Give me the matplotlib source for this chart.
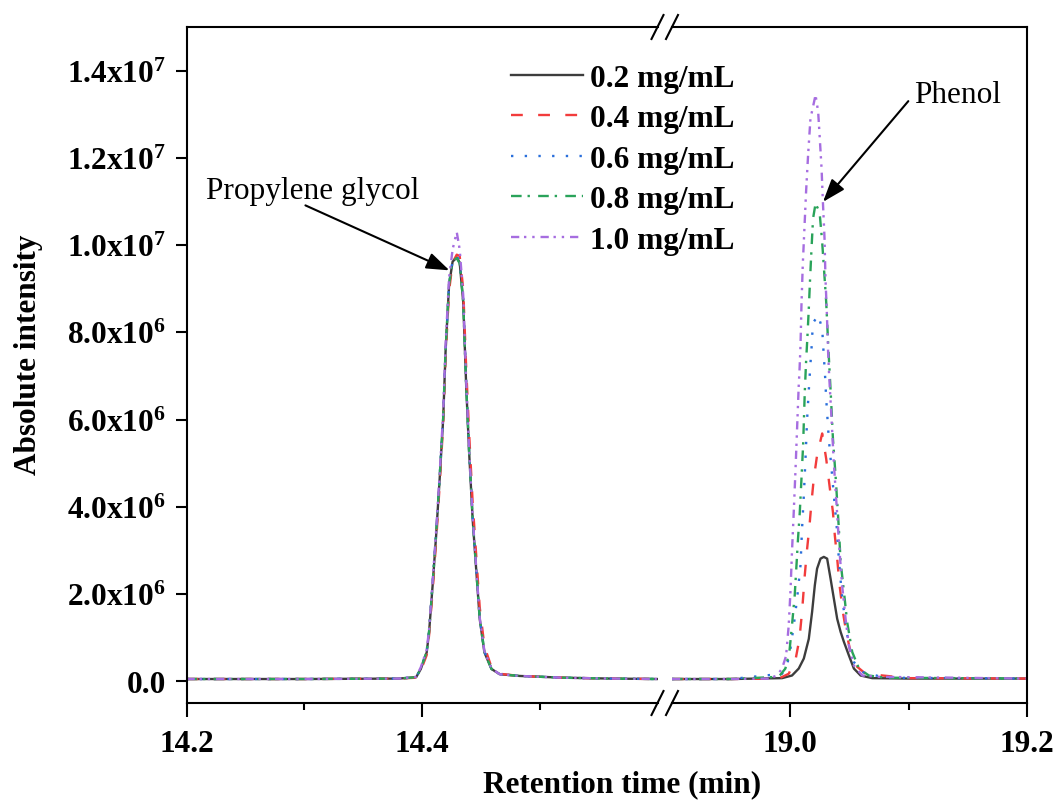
import matplotlib
matplotlib.use('Agg')
import matplotlib.pyplot as plt
from matplotlib.lines import Line2D
import numpy as np

plt.rcParams['font.family'] = ['Liberation Serif', 'DejaVu Serif']
plt.rcParams['mathtext.fontset'] = 'custom'
plt.rcParams['mathtext.rm'] = 'Liberation Serif'
plt.rcParams['mathtext.bf'] = 'Liberation Serif:bold'
plt.rcParams['mathtext.default'] = 'bf'

LABELS = ['0.2 mg/mL', '0.4 mg/mL', '0.6 mg/mL', '0.8 mg/mL', '1.0 mg/mL']
COLORS = ['#3d3d3d', '#f23c3c', '#2a6fdb', '#2aa35a', '#a66de0']
STYLES = ['-', (0, (5, 6.5)), (0, (1, 4.8)), (0, (4.5, 2.5, 1, 3.5)),
          (0, (3.5, 2, 1, 2.5, 1, 2.5))]

# propylene glycol peak (retention time in min, intensity in 1e6)
t_left = [14.20, 14.30, 14.38, 14.395, 14.399, 14.404, 14.406, 14.409, 14.412, 14.415,
          14.418, 14.420, 14.423, 14.426, 14.4295, 14.432, 14.435, 14.4375, 14.440, 14.443,
          14.446, 14.449, 14.453, 14.459, 14.466, 14.483, 14.52, 14.56, 14.60]
pg_02 = [0.05, 0.05, 0.06, 0.09, 0.28, 0.66, 1.12, 2.19, 3.34, 4.64, 6.02, 7.55, 9.09, 9.62,
         9.72, 9.60, 8.70, 6.79, 5.26, 3.72, 2.57, 1.43, 0.66, 0.28, 0.16, 0.12, 0.08, 0.06, 0.05]
pg_04 = [0.05, 0.05, 0.06, 0.08, 0.25, 0.60, 1.05, 2.05, 3.20, 4.50, 5.90, 7.40, 8.95, 9.60,
         9.78, 9.75, 9.00, 7.20, 5.70, 4.10, 2.90, 1.70, 0.80, 0.32, 0.17, 0.12, 0.08, 0.06, 0.05]
pg_06 = [0.05, 0.05, 0.06, 0.09, 0.30, 0.70, 1.15, 2.25, 3.40, 4.70, 6.10, 7.60, 9.10, 9.65,
         9.75, 9.62, 8.75, 6.85, 5.30, 3.75, 2.60, 1.45, 0.68, 0.29, 0.16, 0.12, 0.08, 0.06, 0.05]
pg_08 = [0.05, 0.05, 0.06, 0.09, 0.29, 0.68, 1.14, 2.22, 3.37, 4.68, 6.05, 7.58, 9.10, 9.64,
         9.70, 9.58, 8.70, 6.80, 5.28, 3.74, 2.58, 1.44, 0.67, 0.28, 0.16, 0.12, 0.08, 0.06, 0.05]
pg_10 = [0.05, 0.05, 0.06, 0.10, 0.32, 0.72, 1.18, 2.28, 3.45, 4.75, 6.15, 7.70, 9.25, 9.90,
         10.30, 9.90, 8.85, 6.90, 5.35, 3.78, 2.62, 1.46, 0.69, 0.29, 0.16, 0.12, 0.08, 0.06, 0.05]

# phenol peak, one time axis per series
ph_t_02 = [18.90, 18.95, 18.993, 19.0014, 19.0071, 19.0114, 19.0156, 19.0184, 19.0207, 19.0226,
           19.0255, 19.0283, 19.0311, 19.034, 19.0368, 19.0396, 19.0425, 19.0453, 19.0495,
           19.0537, 19.0594, 19.0692, 19.10, 19.20]
ph_02 = [0.05, 0.05, 0.07, 0.13, 0.29, 0.52, 0.97, 1.59, 2.20, 2.58, 2.81, 2.85, 2.81, 2.35,
         1.89, 1.43, 1.13, 0.90, 0.59, 0.29, 0.13, 0.07, 0.06, 0.06]
ph_t_04 = [18.90, 18.95, 18.9902, 18.9986, 19.0043, 19.0077, 19.0099, 19.0122, 19.0142, 19.0162,
           19.0179, 19.0198, 19.0226, 19.0269, 19.0303, 19.0334, 19.036, 19.0376, 19.0396,
           19.0416, 19.0444, 19.0472, 19.0509, 19.0552, 19.0636, 19.10, 19.20]
ph_04 = [0.05, 0.05, 0.06, 0.17, 0.48, 0.97, 1.59, 2.43, 3.04, 3.57, 4.11, 4.64, 5.18, 5.68,
         5.10, 4.42, 3.88, 3.34, 2.81, 2.20, 1.59, 1.13, 0.67, 0.36, 0.17, 0.07, 0.06]
ph_t_06 = [18.90, 18.95, 18.993, 18.9972, 19.0001, 19.0029, 19.0057, 19.0086, 19.0099, 19.0114,
           19.0128, 19.0142, 19.0156, 19.017, 19.0179, 19.0184, 19.0198, 19.0235, 19.0269,
           19.0283, 19.0292, 19.0303, 19.0325, 19.0348, 19.0368, 19.0391, 19.041, 19.0433,
           19.0461, 19.0495, 19.0537, 19.0608, 19.08, 19.20]
ph_06 = [0.05, 0.05, 0.17, 0.36, 0.75, 1.28, 1.89, 2.66, 3.50, 4.26, 5.10, 6.02, 6.67, 7.28,
         7.62, 7.93, 8.24, 8.39, 8.09, 7.44, 7.09, 6.48, 5.56, 4.87, 4.26, 3.57, 2.81, 2.05,
         1.43, 0.82, 0.44, 0.21, 0.08, 0.06]
ph_t_08 = [18.90, 18.95, 18.9902, 18.9958, 18.9992, 19.0014, 19.0037, 19.0052, 19.0065, 19.008,
           19.0094, 19.0108, 19.0122, 19.0133, 19.0145, 19.0156, 19.0167, 19.0179, 19.0192,
           19.0213, 19.0247, 19.0269, 19.0286, 19.0303, 19.0315, 19.0326, 19.0341, 19.036,
           19.0382, 19.0396, 19.041, 19.0425, 19.0453, 19.048, 19.0523, 19.058, 19.0664,
           19.08, 19.20]
ph_08 = [0.05, 0.05, 0.10, 0.29, 0.67, 1.28, 1.97, 2.66, 3.27, 3.88, 4.64, 5.41, 6.63, 7.32,
         7.93, 8.54, 9.23, 9.92, 10.61, 10.95, 10.76, 10.07, 9.39, 8.70, 8.01, 7.40, 6.63, 5.56,
         4.72, 4.11, 3.50, 2.73, 2.05, 1.36, 0.67, 0.29, 0.13, 0.08, 0.06]
ph_t_10 = [18.90, 18.95, 18.9817, 18.9887, 18.993, 18.9964, 18.9986, 19.0001, 19.0014, 19.0029,
           19.0043, 19.0057, 19.0071, 19.0077, 19.0086, 19.0094, 19.0105, 19.0119, 19.0133,
           19.015, 19.017, 19.0213, 19.0235, 19.0249, 19.0264, 19.0275, 19.0289, 19.0297,
           19.0308, 19.0319, 19.0328, 19.0345, 19.0367, 19.0391, 19.0416, 19.0438, 19.0467,
           19.0495, 19.0537, 19.0608, 19.0749, 19.20]
ph_10 = [0.05, 0.05, 0.06, 0.13, 0.29, 0.58, 1.27, 2.05, 2.97, 3.89, 4.80, 5.79, 6.78, 7.09,
         7.70, 8.62, 9.54, 10.38, 11.22, 12.06, 12.90, 13.44, 13.06, 12.44, 11.75, 11.00,
         10.15, 9.23, 8.49, 7.57, 7.01, 6.18, 5.03, 4.03, 2.97, 2.19, 1.43, 0.81, 0.36, 0.13,
         0.10, 0.06]

left_series = [pg_02, pg_04, pg_06, pg_08, pg_10]
right_series = [(ph_t_02, ph_02), (ph_t_04, ph_04), (ph_t_06, ph_06),
                (ph_t_08, ph_08), (ph_t_10, ph_10)]

y_ticks = [0, 2e6, 4e6, 6e6, 8e6, 1.0e7, 1.2e7, 1.4e7]
y_ticklabels = ['0.0', '2.0x10$^{6}$', '4.0x10$^{6}$', '6.0x10$^{6}$', '8.0x10$^{6}$',
                '1.0x10$^{7}$', '1.2x10$^{7}$', '1.4x10$^{7}$']

W, H = 1057, 803
FS = 22.5

def px_rect(x0, x1, y_top, y_bot):
    return [x0 / W, 1 - y_bot / H, (x1 - x0) / W, (y_bot - y_top) / H]

fig = plt.figure(figsize=(W / 100, H / 100), dpi=100)
ax1 = fig.add_axes(px_rect(186.5, 657.5, 28, 704))
ax2 = fig.add_axes(px_rect(672, 1027, 28, 704))

lines = []
for vals, (tr, vr), c, ls in zip(left_series, right_series, COLORS, STYLES):
    ln, = ax1.plot(t_left, np.array(vals) * 1e6, color=c, ls=ls, lw=1.7)
    ax2.plot(tr, np.array(vr) * 1e6, color=c, ls=ls, lw=1.7)
    lines.append(ln)

for ax in (ax1, ax2):
    ax.set_ylim(-0.5e6, 1.5e7)
    for s in ax.spines.values():
        s.set_linewidth(1.5)
    ax.tick_params(axis='x', which='major', direction='out', length=10, width=1.5,
                   pad=9, labelsize=FS)
    ax.tick_params(axis='x', which='minor', direction='out', length=5, width=1.5)

ax1.set_xlim(14.2, 14.6)
ax1.set_xticks([14.2, 14.4])
ax1.set_xticklabels(['14.2', '14.4'], fontweight='bold')
ax1.set_xticks([14.3, 14.5], minor=True)
ax1.spines['right'].set_visible(False)
ax1.set_yticks(y_ticks)
ax1.set_yticklabels(y_ticklabels, fontweight='bold')
ax1.tick_params(axis='y', direction='out', length=8, width=1.5, pad=7, labelsize=FS)

ax2.set_xlim(18.9, 19.2)
ax2.set_xticks([19.0, 19.2])
ax2.set_xticklabels(['19.0', '19.2'], fontweight='bold')
ax2.set_xticks([19.1], minor=True)
ax2.spines['left'].set_visible(False)
ax2.set_yticks([])

# break marks
for xb in (657.5, 672):
    for yb in (28, 704):
        fig.add_artist(Line2D([(xb - 6) / W, (xb + 6) / W],
                              [1 - (yb + 12) / H, 1 - (yb - 12) / H],
                              color='black', lw=1.5))

# annotations
arrow = dict(arrowstyle='-|>,head_length=0.7,head_width=0.25', color='black', lw=1.5,
             mutation_scale=20, shrinkA=0, shrinkB=0)
ax1.annotate('', xy=(14.4233, 9.42e6), xytext=(14.301, 10.91e6), arrowprops=arrow)
ax1.text(14.2165, 11.09e6, 'Propylene glycol', fontsize=22.5, ha='left', va='baseline')
ax2.annotate('', xy=(19.0276, 10.99e6), xytext=(19.0997, 13.30e6), arrowprops=arrow,
             annotation_clip=False)
ax2.text(19.1046, 13.28e6, 'Phenol', fontsize=22.5, ha='left', va='baseline', clip_on=False)

fig.legend(lines, LABELS, loc='upper left', bbox_to_anchor=(510.7 / W, 1 - 64.5 / H),
           frameon=False, borderpad=0, borderaxespad=0, handlelength=2.3,
           handletextpad=0.25, labelspacing=0.37,
           prop={'weight': 'bold', 'size': FS})

fig.text(622 / W, 1 - 785 / H, 'Retention time (min)', fontsize=FS, fontweight='bold',
         ha='center', va='center')
fig.text(29 / W, 1 - 355 / H, 'Absolute intensity', fontsize=FS, fontweight='bold',
         ha='center', va='center', rotation=90)

fig.savefig('out.png', dpi=100)
